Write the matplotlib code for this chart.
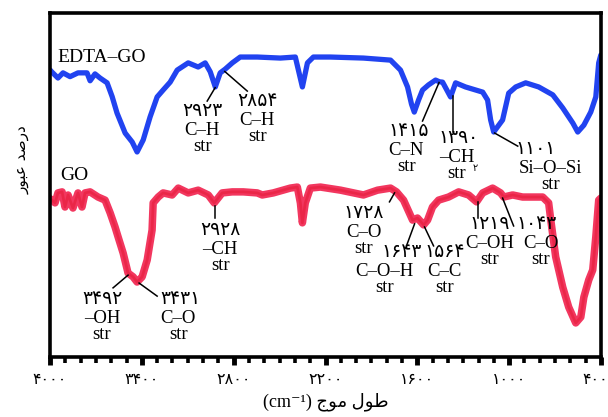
import numpy as np
import matplotlib
matplotlib.use('Agg')
import matplotlib.pyplot as plt
import matplotlib.transforms as mtransforms

SERIF = ['Liberation Serif', 'DejaVu Sans']
FA = str.maketrans('0123456789', '۰۱۲۳۴۵۶۷۸۹')

# EDTA-GO spectrum (wavenumber cm-1, transmittance a.u.)
edta_wn = [3999, 3989, 3948, 3915, 3869, 3817, 3758, 3738, 3706, 3673, 3627, 3594,
           3562, 3509, 3463, 3431, 3391, 3346, 3300, 3261, 3215, 3169, 3097, 3032,
           2986, 2953, 2920, 2888, 2855, 2809, 2757, 2646, 2495, 2397, 2377, 2351,
           2318, 2279, 2168, 1952, 1775, 1710, 1664, 1638, 1620, 1592, 1566, 1527,
           1481, 1455, 1435, 1383, 1350, 1285, 1173, 1141, 1121, 1101, 1043, 1003,
           957, 892, 807, 715, 650, 584, 552, 512, 467, 434, 415, 401]
edta_t = [83.4, 82.9, 81.1, 82.6, 81.5, 82.6, 82.6, 80.3, 82.3, 81.1, 79.7, 75.7,
          70.9, 65.1, 62.5, 59.6, 63.1, 69.8, 75.6, 77.6, 79.9, 83.4, 85.5, 84.3,
          85.5, 82.9, 78.5, 82.6, 83.7, 85.5, 87.2, 87.2, 86.9, 87.2, 83.4, 78.5,
          85.5, 87.2, 87.2, 86.9, 86.3, 83.4, 78.5, 73.5, 71.2, 74.7, 77.6, 79.1,
          80.5, 80.0, 79.9, 75.6, 79.7, 78.5, 77.0, 74.7, 68.9, 65.4, 68.9, 76.7,
          78.5, 79.7, 78.5, 76.2, 72.4, 68.0, 65.4, 67.4, 71.2, 75.6, 85.5, 87.8]

# GO spectrum
go_wn = [3999, 3987, 3967, 3948, 3921, 3902, 3882, 3850, 3817, 3791, 3771, 3738,
         3686, 3640, 3607, 3575, 3555, 3522, 3490, 3457, 3431, 3398, 3365, 3333,
         3326, 3293, 3261, 3202, 3162, 3097, 3032, 2966, 2927, 2875, 2809, 2737,
         2646, 2613, 2541, 2430, 2384, 2364, 2351, 2332, 2299, 2233, 2102, 1952,
         1860, 1775, 1736, 1690, 1631, 1599, 1559, 1533, 1501, 1461, 1396, 1330,
         1265, 1213, 1173, 1108, 1056, 1036, 977, 912, 781, 742, 728, 696,
         650, 611, 565, 532, 512, 480, 454, 434, 415, 401]
go_t = [46.0, 45.6, 44.8, 47.7, 48.0, 43.6, 47.1, 43.3, 47.7, 43.6, 47.7, 48.0,
        46.5, 45.6, 41.9, 37.8, 34.9, 30.2, 24.4, 23.3, 21.8, 23.3, 28.2, 36.9,
        44.8, 46.5, 47.7, 47.1, 49.1, 47.7, 48.5, 47.1, 44.8, 47.7, 48.0, 48.0,
        47.7, 47.1, 47.7, 49.1, 49.4, 44.8, 39.0, 44.8, 49.1, 49.4, 48.5, 47.1,
        48.5, 49.1, 48.0, 45.6, 39.8, 40.4, 38.4, 39.8, 43.6, 45.6, 46.5, 48.0,
        47.1, 45.1, 47.7, 49.1, 47.7, 46.5, 47.1, 46.5, 46.5, 44.8, 39.8, 29.1,
        20.3, 14.5, 9.9, 11.6, 17.4, 22.4, 25.3, 34.9, 45.6, 46.2]

# peak labels: number, text, number x, text x, top y, leader start, leader end
peaks = [
    ('2923', 'C–H\nstr', 3005, 3005, 73.8, (2973, 74.4), (2921, 78.3)),
    ('2854', 'C–H\nstr', 2646, 2646, 76.7, (2711, 77.3), (2858, 83.0)),
    ('1415', 'C–N\nstr', 1658, 1672, 68.0, (1566, 68.6), (1458, 79.8)),
    ('1390', '–CH\nstr', 1330, 1345, 66.0, (1370, 65.4), (1370, 75.9)),
    ('1101', 'Si–O–Si\nstr', 827, 729, 62.8, (944, 61.3), (1095, 65.1)),
    ('3492', '–OH\nstr', 3660, 3660, 19.2, (3588, 20.1), (3490, 23.8)),
    ('3431', 'C–O\nstr', 3149, 3162, 19.2, (3300, 17.7), (3418, 21.5)),
    ('2928', '–CH\nstr', 2888, 2888, 39.2, (2920, 40.4), (2920, 43.9)),
    ('1728', 'C–O\nstr', 1952, 1952, 44.2, (1782, 45.1), (1749, 47.7)),
    ('1643', 'C–O–H\nstr', 1700, 1815, 32.8, (1671, 32.3), (1618, 38.7)),
    ('1564', 'C–C\nstr', 1422, 1422, 32.8, (1494, 32.3), (1553, 37.8)),
    ('1219', 'C–OH\nstr', 1128, 1128, 41.0, (1206, 40.4), (1206, 45.1)),
    ('1043', 'C–O\nstr', 820, 794, 41.0, (971, 38.1), (1043, 46.2)),
]

major_ticks = [4000, 3400, 2800, 2200, 1600, 1000, 400]

fig = plt.figure(figsize=(6.08, 4.17), dpi=100)
ax = fig.add_axes([50 / 608, 60 / 417, 551 / 608, 344 / 417])

ax.plot(edta_wn, edta_t, color='#2143f0', lw=3.8, solid_joinstyle='round',
        solid_capstyle='round')
ax.plot(go_wn, go_t, color='#f2375f', lw=5.4, solid_joinstyle='round',
        solid_capstyle='round')
ax.plot(go_wn, go_t, color='#e8203f', lw=2.0, alpha=0.7, solid_joinstyle='round')

ax.set_xlim(4000, 400)
ax.set_ylim(0, 100)

for label, txt, nx, tx, ty, (x0, y0), (x1, y1) in peaks:
    ax.text(nx, ty, label.translate(FA), ha='center', va='top',
            fontsize=13.5, family=SERIF)
    ax.text(tx, ty - 5.4, txt, ha='center', va='top',
            fontsize=13.5, family=SERIF, linespacing=0.95)
    ax.plot([x0, x1], [y0, y1], color='black', lw=1.1)
# subscript 2 of CH2
ax.text(1222, 54.8, '۲', fontsize=7, family=SERIF, ha='center', va='center')

ax.text(3954, 87.2, 'EDTA–GO', fontsize=14, family=SERIF, va='center', ha='left')
ax.text(3935, 52.9, 'GO', fontsize=14, family=SERIF, va='center', ha='left')

ax.set_xticks(major_ticks)
ax.set_xticklabels([str(t).translate(FA) for t in major_ticks],
                   family='DejaVu Sans', fontsize=11.5)
ax.set_xticks(np.arange(400, 4001, 100), minor=True)
ax.tick_params(axis='x', which='major', direction='out', length=6, width=3.5, pad=5)
ax.tick_params(axis='x', which='minor', direction='out', length=4, width=2.6)
ax.set_yticks([])
for s in ax.spines.values():
    s.set_linewidth(2.6)

# keep the last tick label inside the picture
last = ax.get_xticklabels()[-1]
last.set_transform(last.get_transform() +
                   mtransforms.ScaledTranslation(-6 / 100, 0, fig.dpi_scale_trans))

xlab = '(cm⁻¹) ' + '\uFE9D\uFEEE\uFEE3 \uFEDD\uFEEE\uFEC3'
ax.set_xlabel(xlab, family=SERIF, fontsize=13, labelpad=4)
ylab = '\uFEAD\uFEEE\uFE92\uFECB \uFEAA\uFEBB\uFEAD\uFEA9'
fig.text(22 / 608, 1 - 160 / 417, ylab, rotation=90, family='DejaVu Sans',
         fontsize=11, ha='center', va='center')

fig.savefig('out.png', dpi=100, facecolor='white')
